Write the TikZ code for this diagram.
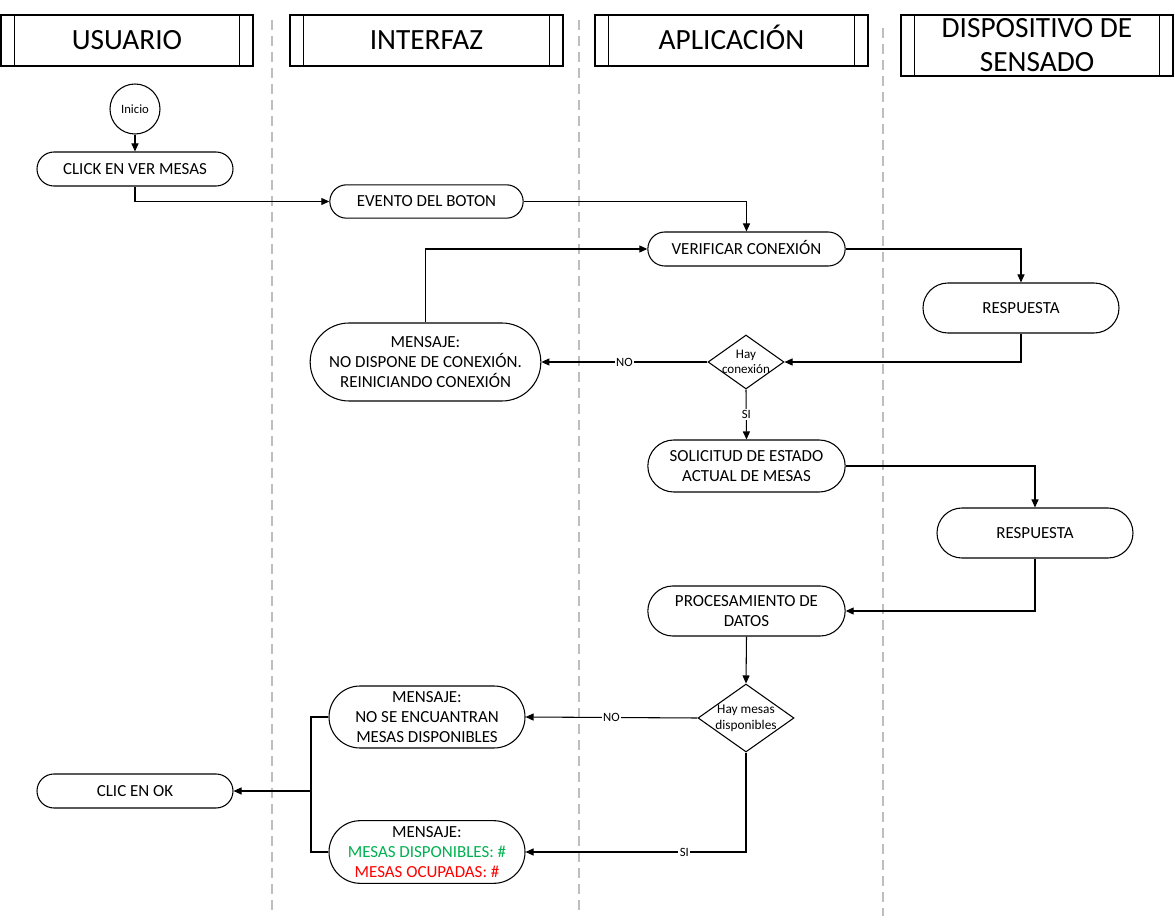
\documentclass[tikz,border=0pt]{standalone}
\usepackage{fontspec}
\setmainfont{Carlito}
\usetikzlibrary{arrows.meta,shapes.geometric}
\definecolor{lanegray}{RGB}{190,190,190}
\definecolor{okgreen}{RGB}{0,176,80}
\begin{document}
\begin{tikzpicture}[x=0.75pt, y=-0.75pt,
    lane/.style={draw, line width=0.8pt, inner sep=0pt, align=center,
      font=\fontsize{22}{25.5}\selectfont},
    pill/.style 2 args={draw, line width=0.8pt, inner sep=0pt, align=center,
      minimum width=#1, minimum height=#2, rounded corners=#2/2,
      font=\fontsize{12.7}{15.2}\selectfont},
    decision/.style 2 args={draw, diamond, line width=0.8pt, inner sep=0pt,
      minimum width=#1, minimum height=#2},
    tag/.style={font=\fontsize{9.5}{10}\selectfont, fill=white, inner sep=1pt},
    flow/.style={line width=0.8pt, -{Triangle[length=6pt, width=5.25pt]}},
    link/.style={line width=0.8pt}
  ]
  \useasboundingbox (0,0) rectangle (1175,923);

  % swimlane separators
  \foreach \x/\y in {272/20, 579/20, 883/28}
    \draw[lanegray, line width=0.8pt, dash pattern=on 7.5pt off 4.5pt] (\x,\y) -- (\x,916);

  % headers
  \node[lane, minimum width=189pt,   minimum height=38.25pt] (usuario)    at (127,40.5)   {USUARIO};
  \node[lane, minimum width=204.75pt, minimum height=38.25pt] (interfaz)   at (426.5,40.5) {INTERFAZ};
  \node[lane, minimum width=204.75pt, minimum height=38.25pt] (aplicacion) at (731.5,40.5) {APLICACI\smash{Ó}N};
  \node[lane, minimum width=204pt,   minimum height=45.75pt] (sensado)    at (1037,45.5)  {DISPOSITIVO DE\\SENSADO};
  \foreach \n in {usuario, interfaz, aplicacion, sensado} {
    \draw[line width=0.8pt] ([xshift=10.5pt]\n.north west) -- ([xshift=10.5pt]\n.south west);
    \draw[line width=0.8pt] ([xshift=-10.5pt]\n.north east) -- ([xshift=-10.5pt]\n.south east);
  }

  % nodes
  \node[draw, circle, line width=0.8pt, minimum size=37.5pt, inner sep=0pt,
    font=\fontsize{9.5}{10}\selectfont] (inicio) at (135,109) {Inicio};
  \node[pill={147pt}{25.5pt}] (clicVer)   at (135,169)   {CLICK EN VER MESAS};
  \node[pill={145pt}{25pt}]   (evento)    at (426.5,201.5) {EVENTO DEL BOTON};
  \node[pill={148pt}{25.5pt}] (verificar) at (746.5,249) {VERIFICAR CONEXI\smash{Ó}N};
  \node[pill={147pt}{37.5pt}] (respuestaA) at (1021,308) {RESPUESTA};
  \node[decision={57pt}{40.5pt}, label={[font=\fontsize{9.8}{11}\selectfont, align=center]center:Hay\\conexión}] (hayConexion) at (746,362) {};
  \node[pill={173pt}{58.5pt}] (msgConexion) at (425.5,362) {MENSAJE:\\NO DISPONE DE CONEXIÓN.\\REINICIANDO CONEXIÓN};
  \node[pill={148pt}{39pt}]   (solicitud) at (746.5,466) {SOLICITUD DE ESTADO\\ACTUAL DE MESAS};
  \node[pill={147pt}{37.5pt}] (respuestaB) at (1035,533) {RESPUESTA};
  \node[pill={148pt}{37.5pt}] (procesamiento) at (746.5,611) {PROCESAMIENTO DE\\DATOS};
  \node[decision={72pt}{51pt}, label={[font=\fontsize{10}{12}\selectfont, align=center]center:Hay mesas\\disponibles}] (hayMesas) at (746,718) {};
  \node[pill={147pt}{46.5pt}] (msgNoMesas) at (427,717) {MENSAJE:\\NO SE ENCUANTRAN\\MESAS DISPONIBLES};
  \node[pill={147pt}{47pt}]   (msgMesas) at (427,852) {MENSAJE:\\\textcolor{okgreen}{MESAS DISPONIBLES: \#}\\\textcolor{red}{MESAS OCUPADAS: \#}};
  \node[pill={147pt}{25.5pt}] (clicOk) at (135,791) {CLIC EN OK};

  \coordinate (junta) at (311,791);

  % connectors
  \draw[flow] (inicio) -- (clicVer);
  \draw[flow] (clicVer.south) |- (evento.west);
  \draw[flow] (evento.east) -| (verificar.north);
  \draw[flow] (verificar.east) -| (respuestaA.north);
  \draw[flow] (respuestaA.south) |- (hayConexion.east);
  \draw[flow] (hayConexion.west) -- node[tag] {NO} (msgConexion.east);
  \draw[flow] (msgConexion.north) |- (verificar.west);
  \draw[flow] (hayConexion.south) -- node[tag] {SI} (solicitud.north);
  \draw[flow] (solicitud.east) -| (respuestaB.north);
  \draw[flow] (respuestaB.south) |- (procesamiento.east);
  \draw[flow] (procesamiento.south) -- (hayMesas.north);
  \draw[flow] (hayMesas.west) -- node[tag] {NO} (msgNoMesas.east);
  \draw[flow] (hayMesas.south) |- node[tag, pos=0.64] {SI} (msgMesas.east);
  \draw[link] (msgNoMesas.west) -| (junta) |- (msgMesas.west);
  \draw[flow] (junta) -- (clicOk.east);

\end{tikzpicture}
\end{document}
